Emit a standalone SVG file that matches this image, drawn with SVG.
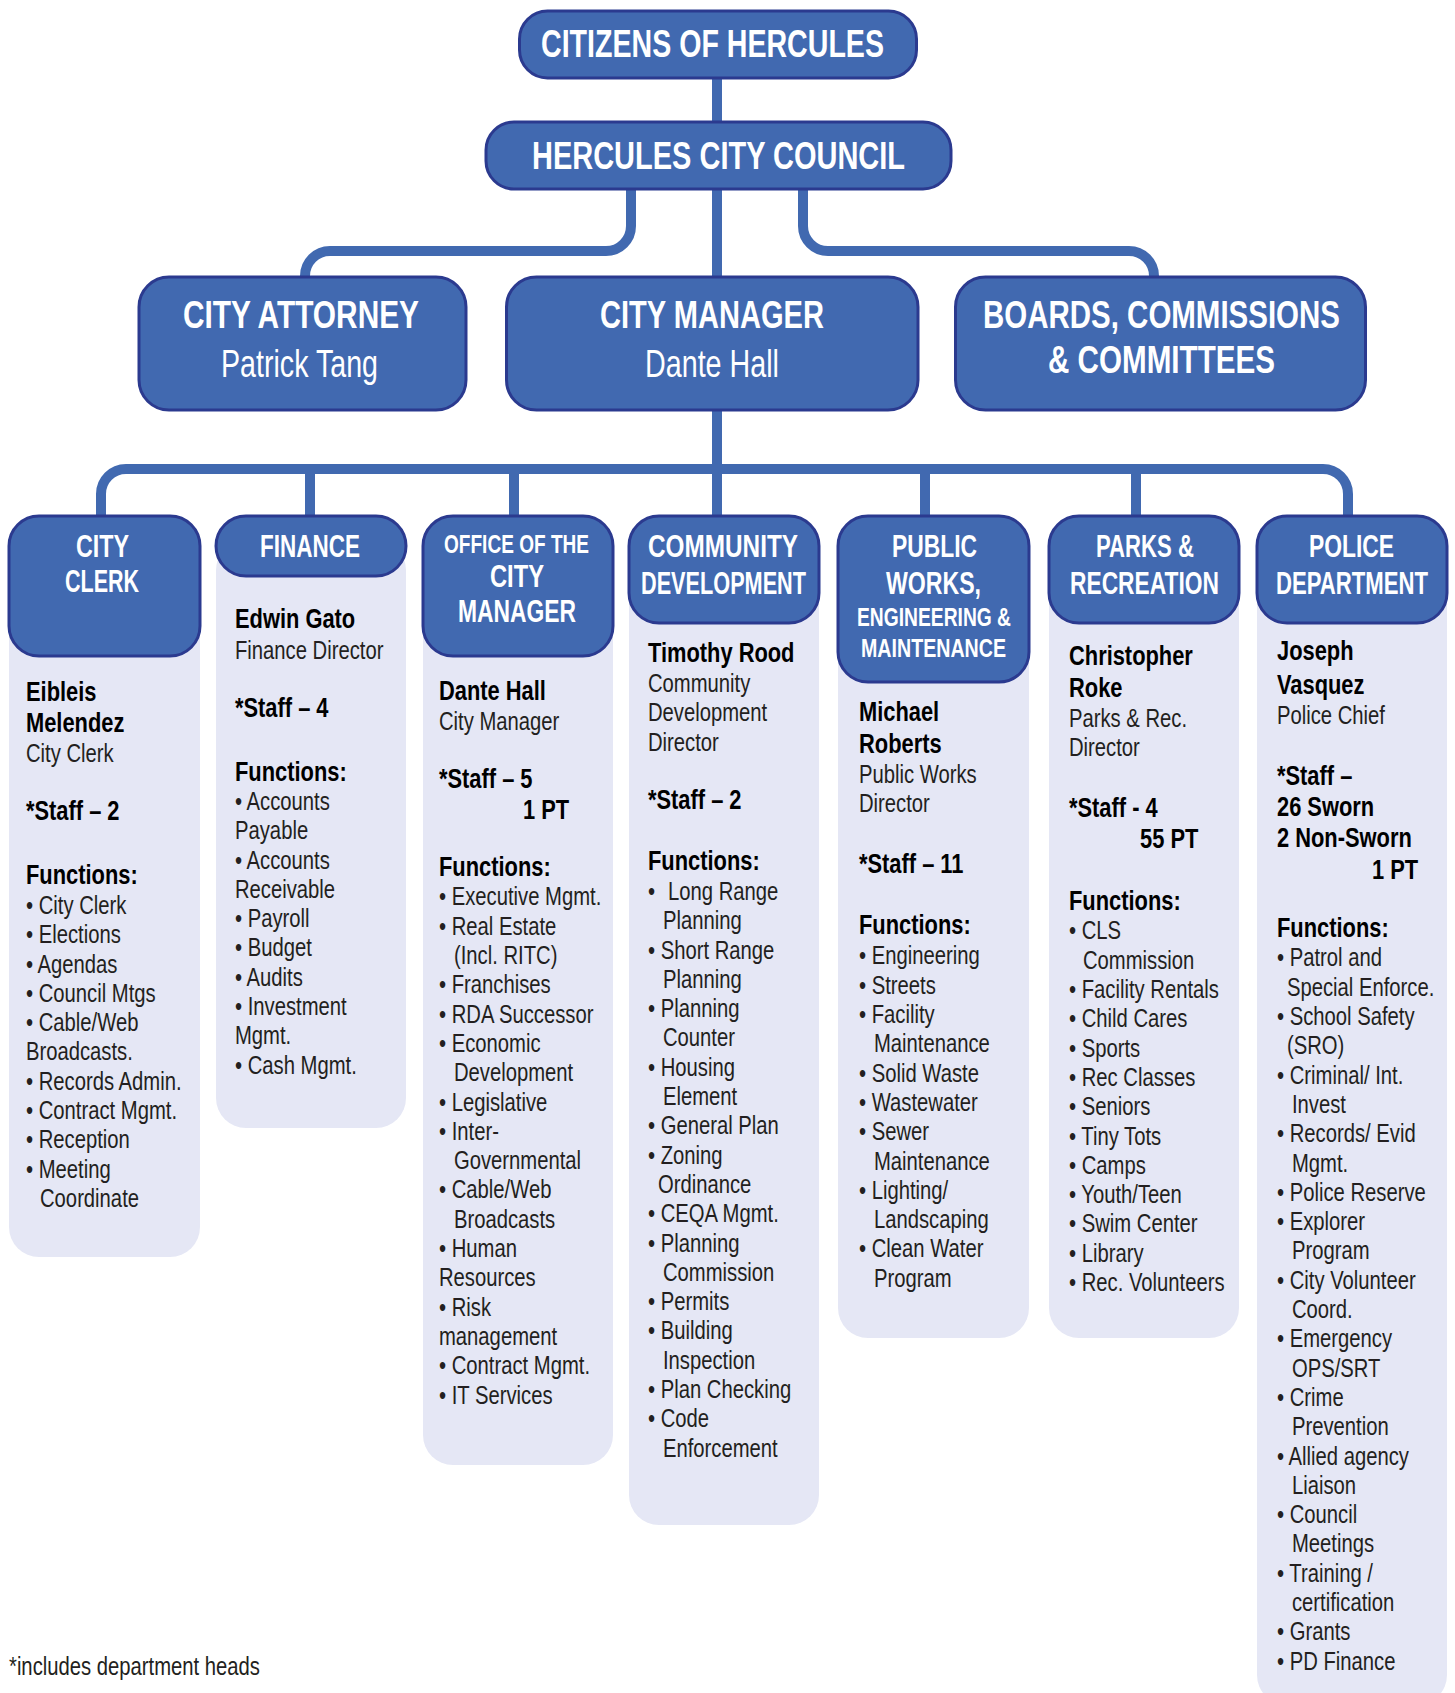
<svg xmlns="http://www.w3.org/2000/svg" width="1455" height="1693" viewBox="0 0 1455 1693">
<style>
.box{fill:#4169b0;stroke:#2b3a8f;stroke-width:3}
.panel{fill:#e5e7f5}
.conn{fill:none;stroke:#4169b0;stroke-width:10}
text{font-family:'Liberation Sans',Arial,sans-serif}
.h1{font-weight:bold;fill:#fff;font-size:39px}
.sub{fill:#fff;font-size:38px}
.dh{font-weight:bold;fill:#fff;font-size:32px}
.dhs{font-weight:bold;fill:#fff;font-size:26px}
.t{font-size:25px;fill:#231f20}
.b{font-size:27px;font-weight:bold;fill:#000}
</style>
<rect width="1455" height="1693" fill="#fff"/>
<g id="connectors">
<path class="conn" d="M717,78 V122"/>
<path class="conn" d="M717,189 V277"/>
<path class="conn" d="M631,189 V226 A25,25 0 0 1 606,251 H330 A25,25 0 0 0 305,276 V279"/>
<path class="conn" d="M803,189 V226 A25,25 0 0 0 828,251 H1129 A25,25 0 0 1 1154,276 V279"/>
<path class="conn" d="M717,410 V518"/>
<path class="conn" d="M101,518 V494 A25,25 0 0 1 126,469 H1323 A25,25 0 0 1 1348,494 V518"/>
<path class="conn" d="M310,469 V518"/>
<path class="conn" d="M514,469 V518"/>
<path class="conn" d="M925,469 V518"/>
<path class="conn" d="M1136,469 V518"/>
</g>
<g id="citizens">
<rect class="box" x="519.5" y="11" width="397" height="67" rx="28"/>
<text class="h1" x="541" y="57" textLength="343" lengthAdjust="spacingAndGlyphs">CITIZENS OF HERCULES</text>
</g>
<g id="council">
<rect class="box" x="486" y="122" width="465" height="67" rx="28"/>
<text class="h1" x="532" y="169" textLength="373" lengthAdjust="spacingAndGlyphs">HERCULES CITY COUNCIL</text>
</g>
<g id="city-attorney">
<rect class="box" x="139" y="277" width="327" height="133" rx="30"/>
<text class="h1" x="183" y="328" textLength="236" lengthAdjust="spacingAndGlyphs">CITY ATTORNEY</text>
<text class="sub" x="221" y="377" textLength="157" lengthAdjust="spacingAndGlyphs">Patrick Tang</text>
</g>
<g id="city-manager">
<rect class="box" x="506.5" y="277" width="411.5" height="133" rx="30"/>
<text class="h1" x="600" y="328" textLength="224" lengthAdjust="spacingAndGlyphs">CITY MANAGER</text>
<text class="sub" x="645" y="377" textLength="134" lengthAdjust="spacingAndGlyphs">Dante Hall</text>
</g>
<g id="boards">
<rect class="box" x="955.5" y="277" width="410" height="133" rx="30"/>
<text class="h1" x="983" y="328" textLength="357" lengthAdjust="spacingAndGlyphs">BOARDS, COMMISSIONS</text>
<text class="h1" x="1048" y="373" textLength="227" lengthAdjust="spacingAndGlyphs">&amp; COMMITTEES</text>
</g>

<g id="city-clerk">
<rect class="panel" x="9" y="540" width="191" height="717" rx="30"/>
<rect class="box" x="9" y="516" width="191" height="140" rx="30"/>
<text class="dh" x="76" y="556.5" textLength="53" lengthAdjust="spacingAndGlyphs">CITY</text>
<text class="dh" x="65" y="592" textLength="74" lengthAdjust="spacingAndGlyphs">CLERK</text>
<g transform="translate(26,0) scale(0.81,1)">
<text class="b" x="0" y="701">Eibleis</text>
<text class="b" x="0" y="732.5">Melendez</text>
<text class="t" x="0" y="762">City Clerk</text>
<text class="b" x="0" y="820.5">*Staff – 2</text>
<text class="b" x="0" y="884.5">Functions:</text>
<text class="t" x="0" y="914">• City Clerk</text>
<text class="t" x="0" y="943.3">• Elections</text>
<text class="t" x="0" y="972.6">• Agendas</text>
<text class="t" x="0" y="1001.9">• Council Mtgs</text>
<text class="t" x="0" y="1031.2">• Cable/Web</text>
<text class="t" x="0" y="1060.5">Broadcasts.</text>
<text class="t" x="0" y="1089.8">• Records Admin.</text>
<text class="t" x="0" y="1119.1">• Contract Mgmt.</text>
<text class="t" x="0" y="1148.4">• Reception</text>
<text class="t" x="0" y="1177.7">• Meeting</text>
<text class="t" x="17.3" y="1207">Coordinate</text>
</g>
</g>

<g id="finance">
<rect class="panel" x="216" y="540" width="190" height="588" rx="30"/>
<rect class="box" x="216" y="516" width="190" height="60" rx="30"/>
<text class="dh" x="260" y="556.5" textLength="100" lengthAdjust="spacingAndGlyphs">FINANCE</text>
<g transform="translate(235,0) scale(0.81,1)">
<text class="b" x="0" y="628.5">Edwin Gato</text>
<text class="t" x="0" y="659">Finance Director</text>
<text class="b" x="0" y="717.5">*Staff – 4</text>
<text class="b" x="0" y="781">Functions:</text>
<text class="t" x="0" y="810">• Accounts</text>
<text class="t" x="0" y="839.3">Payable</text>
<text class="t" x="0" y="868.6">• Accounts</text>
<text class="t" x="0" y="897.9">Receivable</text>
<text class="t" x="0" y="927.2">• Payroll</text>
<text class="t" x="0" y="956.5">• Budget</text>
<text class="t" x="0" y="985.8">• Audits</text>
<text class="t" x="0" y="1015.1">• Investment</text>
<text class="t" x="0" y="1044.4">Mgmt.</text>
<text class="t" x="0" y="1073.7">• Cash Mgmt.</text>
</g>
</g>

<g id="office-city-manager">
<rect class="panel" x="423" y="540" width="190" height="925" rx="30"/>
<rect class="box" x="423" y="516" width="190" height="140" rx="30"/>
<text class="dhs" x="444" y="552.7" textLength="145" lengthAdjust="spacingAndGlyphs">OFFICE OF THE</text>
<text class="dh" x="490" y="587" textLength="54" lengthAdjust="spacingAndGlyphs">CITY</text>
<text class="dh" x="458" y="622" textLength="118" lengthAdjust="spacingAndGlyphs">MANAGER</text>
<g transform="translate(439,0) scale(0.81,1)">
<text class="b" x="0" y="700">Dante Hall</text>
<text class="t" x="0" y="730">City Manager</text>
<text class="b" x="0" y="788">*Staff – 5</text>
<text class="b" x="103.7" y="819.5">1 PT</text>
<text class="b" x="0" y="876">Functions:</text>
<text class="t" x="0" y="905.5">• Executive Mgmt.</text>
<text class="t" x="0" y="934.8">• Real Estate</text>
<text class="t" x="18.5" y="964.1">(Incl. RITC)</text>
<text class="t" x="0" y="993.4">• Franchises</text>
<text class="t" x="0" y="1022.7">• RDA Successor</text>
<text class="t" x="0" y="1052">• Economic</text>
<text class="t" x="18.5" y="1081.3">Development</text>
<text class="t" x="0" y="1110.6">• Legislative</text>
<text class="t" x="0" y="1139.9">• Inter-</text>
<text class="t" x="18.5" y="1169.2">Governmental</text>
<text class="t" x="0" y="1198.5">• Cable/Web</text>
<text class="t" x="18.5" y="1227.8">Broadcasts</text>
<text class="t" x="0" y="1257.1">• Human</text>
<text class="t" x="0" y="1286.4">Resources</text>
<text class="t" x="0" y="1315.7">• Risk</text>
<text class="t" x="0" y="1345">management</text>
<text class="t" x="0" y="1374.3">• Contract Mgmt.</text>
<text class="t" x="0" y="1403.6">• IT Services</text>
</g>
</g>

<g id="community-development">
<rect class="panel" x="629" y="540" width="190" height="985" rx="30"/>
<rect class="box" x="629" y="516" width="190" height="107" rx="30"/>
<text class="dh" x="648" y="556.5" textLength="150" lengthAdjust="spacingAndGlyphs">COMMUNITY</text>
<text class="dh" x="641" y="593.7" textLength="165" lengthAdjust="spacingAndGlyphs">DEVELOPMENT</text>
<g transform="translate(648,0) scale(0.81,1)">
<text class="b" x="0" y="662">Timothy Rood</text>
<text class="t" x="0" y="692">Community</text>
<text class="t" x="0" y="721.5">Development</text>
<text class="t" x="0" y="751">Director</text>
<text class="b" x="0" y="809">*Staff – 2</text>
<text class="b" x="0" y="870">Functions:</text>
<text class="t" x="0" y="900">•<tspan x="24.7">Long Range</tspan></text>
<text class="t" x="18.5" y="929.3">Planning</text>
<text class="t" x="0" y="958.6">• Short Range</text>
<text class="t" x="18.5" y="987.9">Planning</text>
<text class="t" x="0" y="1017.2">• Planning</text>
<text class="t" x="18.5" y="1046.5">Counter</text>
<text class="t" x="0" y="1075.8">• Housing</text>
<text class="t" x="18.5" y="1105.1">Element</text>
<text class="t" x="0" y="1134.4">• General Plan</text>
<text class="t" x="0" y="1163.7">• Zoning</text>
<text class="t" x="12.3" y="1193">Ordinance</text>
<text class="t" x="0" y="1222.3">• CEQA Mgmt.</text>
<text class="t" x="0" y="1251.6">• Planning</text>
<text class="t" x="18.5" y="1280.9">Commission</text>
<text class="t" x="0" y="1310.2">• Permits</text>
<text class="t" x="0" y="1339.5">• Building</text>
<text class="t" x="18.5" y="1368.8">Inspection</text>
<text class="t" x="0" y="1398.1">• Plan Checking</text>
<text class="t" x="0" y="1427.4">• Code</text>
<text class="t" x="18.5" y="1456.7">Enforcement</text>
</g>
</g>

<g id="public-works">
<rect class="panel" x="838" y="540" width="191" height="798" rx="30"/>
<rect class="box" x="838" y="516" width="191" height="166" rx="30"/>
<text class="dh" x="892" y="556.5" textLength="85" lengthAdjust="spacingAndGlyphs">PUBLIC</text>
<text class="dh" x="886" y="593.7" textLength="95" lengthAdjust="spacingAndGlyphs">WORKS,</text>
<text class="dhs" x="857" y="626" textLength="154" lengthAdjust="spacingAndGlyphs">ENGINEERING &amp;</text>
<text class="dhs" x="861" y="657" textLength="145" lengthAdjust="spacingAndGlyphs">MAINTENANCE</text>
<g transform="translate(859,0) scale(0.81,1)">
<text class="b" x="0" y="721">Michael</text>
<text class="b" x="0" y="753">Roberts</text>
<text class="t" x="0" y="783.5">Public Works</text>
<text class="t" x="0" y="812.5">Director</text>
<text class="b" x="0" y="873">*Staff – 11</text>
<text class="b" x="0" y="934">Functions:</text>
<text class="t" x="0" y="964.5">• Engineering</text>
<text class="t" x="0" y="993.8">• Streets</text>
<text class="t" x="0" y="1023.1">• Facility</text>
<text class="t" x="18.5" y="1052.4">Maintenance</text>
<text class="t" x="0" y="1081.7">• Solid Waste</text>
<text class="t" x="0" y="1111">• Wastewater</text>
<text class="t" x="0" y="1140.3">• Sewer</text>
<text class="t" x="18.5" y="1169.6">Maintenance</text>
<text class="t" x="0" y="1198.9">• Lighting/</text>
<text class="t" x="18.5" y="1228.2">Landscaping</text>
<text class="t" x="0" y="1257.5">• Clean Water</text>
<text class="t" x="18.5" y="1286.8">Program</text>
</g>
</g>

<g id="parks-recreation">
<rect class="panel" x="1049" y="540" width="190" height="798" rx="30"/>
<rect class="box" x="1049" y="516" width="190" height="107" rx="30"/>
<text class="dh" x="1096" y="556.5" textLength="98" lengthAdjust="spacingAndGlyphs">PARKS &amp;</text>
<text class="dh" x="1070" y="593.7" textLength="149" lengthAdjust="spacingAndGlyphs">RECREATION</text>
<g transform="translate(1069,0) scale(0.81,1)">
<text class="b" x="0" y="665.5">Christopher</text>
<text class="b" x="0" y="697">Roke</text>
<text class="t" x="0" y="727">Parks &amp; Rec.</text>
<text class="t" x="0" y="756">Director</text>
<text class="b" x="0" y="817">*Staff - 4</text>
<text class="b" x="87.7" y="848">55 PT</text>
<text class="b" x="0" y="910.5">Functions:</text>
<text class="t" x="0" y="939.5">• CLS</text>
<text class="t" x="17.3" y="968.8">Commission</text>
<text class="t" x="0" y="998.1">• Facility Rentals</text>
<text class="t" x="0" y="1027.4">• Child Cares</text>
<text class="t" x="0" y="1056.7">• Sports</text>
<text class="t" x="0" y="1086">• Rec Classes</text>
<text class="t" x="0" y="1115.3">• Seniors</text>
<text class="t" x="0" y="1144.6">• Tiny Tots</text>
<text class="t" x="0" y="1173.9">• Camps</text>
<text class="t" x="0" y="1203.2">• Youth/Teen</text>
<text class="t" x="0" y="1232.5">• Swim Center</text>
<text class="t" x="0" y="1261.8">• Library</text>
<text class="t" x="0" y="1291.1">• Rec. Volunteers</text>
</g>
</g>

<g id="police">
<rect class="panel" x="1257" y="540" width="190" height="1165" rx="30"/>
<rect class="box" x="1257" y="516" width="190" height="107" rx="30"/>
<text class="dh" x="1309" y="556.5" textLength="85" lengthAdjust="spacingAndGlyphs">POLICE</text>
<text class="dh" x="1276" y="593.7" textLength="152" lengthAdjust="spacingAndGlyphs">DEPARTMENT</text>
<g transform="translate(1277,0) scale(0.81,1)">
<text class="b" x="0" y="660.5">Joseph</text>
<text class="b" x="0" y="694">Vasquez</text>
<text class="t" x="0" y="724">Police Chief</text>
<text class="b" x="0" y="785">*Staff –</text>
<text class="b" x="0" y="816.5">26 Sworn</text>
<text class="b" x="0" y="847.5">2 Non-Sworn</text>
<text class="b" x="117.3" y="879.5">1 PT</text>
<text class="b" x="0" y="937">Functions:</text>
<text class="t" x="0" y="966.5">• Patrol and</text>
<text class="t" x="12.3" y="995.8">Special Enforce.</text>
<text class="t" x="0" y="1025.1">• School Safety</text>
<text class="t" x="12.3" y="1054.4">(SRO)</text>
<text class="t" x="0" y="1083.7">• Criminal/ Int.</text>
<text class="t" x="18.5" y="1113">Invest</text>
<text class="t" x="0" y="1142.3">• Records/ Evid</text>
<text class="t" x="18.5" y="1171.6">Mgmt.</text>
<text class="t" x="0" y="1200.9">• Police Reserve</text>
<text class="t" x="0" y="1230.2">• Explorer</text>
<text class="t" x="18.5" y="1259.5">Program</text>
<text class="t" x="0" y="1288.8">• City Volunteer</text>
<text class="t" x="18.5" y="1318.1">Coord.</text>
<text class="t" x="0" y="1347.4">• Emergency</text>
<text class="t" x="18.5" y="1376.7">OPS/SRT</text>
<text class="t" x="0" y="1406">• Crime</text>
<text class="t" x="18.5" y="1435.3">Prevention</text>
<text class="t" x="0" y="1464.6">• Allied agency</text>
<text class="t" x="18.5" y="1493.9">Liaison</text>
<text class="t" x="0" y="1523.2">• Council</text>
<text class="t" x="18.5" y="1552.5">Meetings</text>
<text class="t" x="0" y="1581.8">• Training /</text>
<text class="t" x="18.5" y="1611.1">certification</text>
<text class="t" x="0" y="1640.4">• Grants</text>
<text class="t" x="0" y="1669.7">• PD Finance</text>
</g>
</g>

<g id="footnote" transform="translate(9,0) scale(0.81,1)">
<text class="t" x="0" y="1675">*includes department heads</text>
</g>
</svg>
